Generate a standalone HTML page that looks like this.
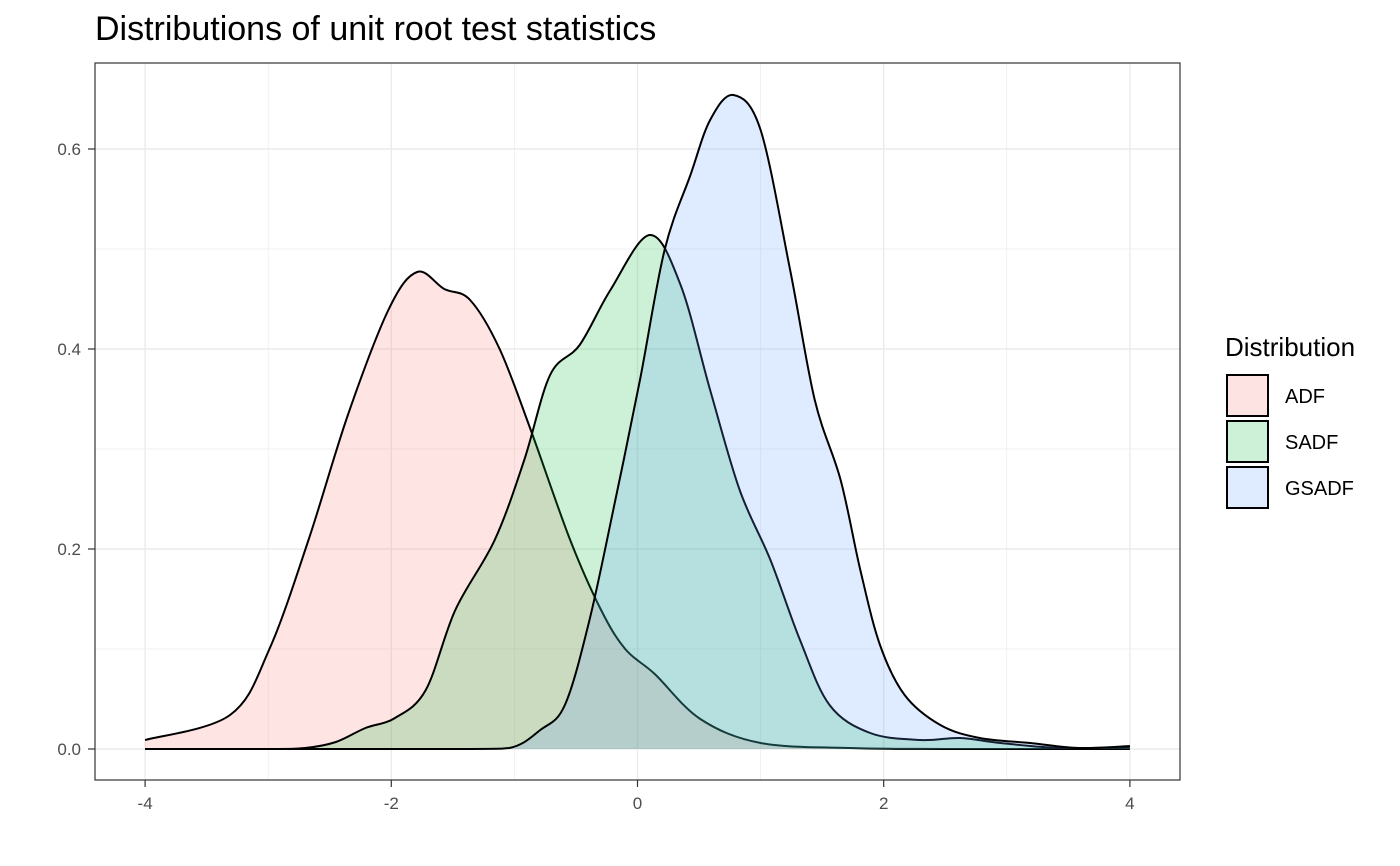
<!DOCTYPE html>
<html><head><meta charset="utf-8"><style>
body{margin:0;background:#fff}
svg{display:block;font-family:"Liberation Sans",sans-serif}
</style></head><body>
<svg id="c" width="1400" height="866"></svg>
<script>
const xTicks=[-4,-2,0,2,4];
const xMinor=[-3,-1,1,3];
const yTicks=[0,0.2,0.4,0.6];
const yMinor=[0.1,0.3,0.5];
const yTickLabels=["0.0","0.2","0.4","0.6"];
const seriesNames=["ADF","SADF","GSADF"];
const adfX=[-4,-3.31,-2.99,-2.67,-2.35,-2.02,-1.79,-1.57,-1.36,-1.12,-0.87,-0.55,-0.3,-0.1,0.14,0.51,1,1.73,2.5,4];
const adfY=[0.009,0.034,0.1,0.21,0.335,0.44,0.477,0.46,0.449,0.4,0.32,0.21,0.14,0.1,0.075,0.03,0.006,0.001,0,0];
const sadfX=[-4,-3,-2.7,-2.45,-2.21,-1.97,-1.72,-1.48,-1.16,-0.92,-0.71,-0.47,-0.22,0.1,0.35,0.59,0.83,1.08,1.32,1.56,1.89,2.3,2.62,2.95,3.43,4];
const sadfY=[0,0,0.001,0.007,0.021,0.031,0.059,0.139,0.209,0.289,0.374,0.404,0.459,0.514,0.464,0.359,0.259,0.189,0.109,0.044,0.016,0.009,0.011,0.006,0.001,0.002];
const gsadfX=[-4,-1.5,-1.04,-0.79,-0.59,-0.39,-0.18,0.02,0.22,0.43,0.59,0.78,1.0,1.24,1.44,1.65,1.81,1.97,2.17,2.46,2.78,3.19,3.59,4];
const gsadfY=[0,0,0.001,0.019,0.044,0.129,0.249,0.369,0.499,0.574,0.629,0.654,0.619,0.479,0.349,0.269,0.179,0.104,0.054,0.024,0.011,0.006,0.001,0.003];
const colors=["rgba(248,118,109,0.2)","rgba(0,186,56,0.2)","rgba(97,156,255,0.2)"];
const legendFill=["#fde4e2","#ccf1d7","#dfebff"];

const NS="http://www.w3.org/2000/svg";
const svg=document.getElementById('c');
const L=95,T=63,R=1180,B=780;
const sx=v=>637.5+v*123.1;
const sy=v=>749-v*1000;
function mk(tag,attrs,parent){const e=document.createElementNS(NS,tag);for(const k in attrs)e.setAttribute(k,attrs[k]);(parent||svg).appendChild(e);return e;}

let e=mk('text',{x:95,y:40,'font-size':34,fill:'#000'});e.textContent="Distributions of unit root test statistics";



xMinor.forEach(v=>{const g=mk('line',{x1:sx(v),x2:sx(v),y1:T,y2:B,stroke:'#ebebeb','stroke-width':0.7});

});
yMinor.forEach(v=>{const g=mk('line',{x1:L,x2:R,y1:sy(v),y2:sy(v),stroke:'#ebebeb','stroke-width':0.7});

});
xTicks.forEach(v=>{const g=mk('line',{x1:sx(v),x2:sx(v),y1:T,y2:B,stroke:'#ebebeb','stroke-width':1.4});

});
yTicks.forEach(v=>{const g=mk('line',{x1:L,x2:R,y1:sy(v),y2:sy(v),stroke:'#ebebeb','stroke-width':1.4});

});

function smooth(pts){let d=`M${pts[0][0]},${pts[0][1]}`;
for(let i=0;i<pts.length-1;i++){const p0=pts[Math.max(i-1,0)],p1=pts[i],p2=pts[i+1],p3=pts[Math.min(i+2,pts.length-1)];
const c1=[p1[0]+(p2[0]-p0[0])/6,p1[1]+(p2[1]-p0[1])/6],c2=[p2[0]-(p3[0]-p1[0])/6,p2[1]-(p3[1]-p1[1])/6];
d+=` C${c1[0]},${Math.min(c1[1],sy(0))} ${c2[0]},${Math.min(c2[1],sy(0))} ${p2[0]},${p2[1]}`;}return d;}
const series=[[adfX,adfY],[sadfX,sadfY],[gsadfX,gsadfY]];
series.forEach((s,i)=>{const pts=s[0].map((x,j)=>[sx(x),sy(s[1][j])]);const line=smooth(pts);
const a=mk('path',{d:line+` L${sx(s[0][s[0].length-1])},${sy(0)} L${sx(s[0][0])},${sy(0)} Z`,fill:colors[i],stroke:'none'});


const l=mk('path',{d:line,fill:'none',stroke:'#000','stroke-width':2});

});

e=mk('rect',{x:L,y:T,width:R-L,height:B-T,fill:'none',stroke:'#333','stroke-width':1.2});



xTicks.forEach(v=>{mk('line',{x1:sx(v),x2:sx(v),y1:B,y2:B+7,stroke:'#333','stroke-width':1.2});
const t=mk('text',{x:sx(v),y:B+29,'font-size':17,fill:'#4d4d4d','text-anchor':'middle'});t.textContent=v;

});
yTicks.forEach((v,i)=>{mk('line',{x1:L-7,x2:L,y1:sy(v),y2:sy(v),stroke:'#333','stroke-width':1.2});
const t=mk('text',{x:L-14,y:sy(v)+6,'font-size':17,fill:'#4d4d4d','text-anchor':'end'});t.textContent=yTickLabels[i];

});

e=mk('text',{x:1225,y:356,'font-size':26,fill:'#000'});e.textContent="Distribution";


seriesNames.forEach((n,i)=>{const y=375+i*46;
const r=mk('rect',{x:1227,y:y,width:41,height:41,fill:legendFill[i],stroke:'#000','stroke-width':2});


const t=mk('text',{x:1285,y:y+28,'font-size':20,fill:'#000'});t.textContent=n;

});
</script>
</body></html>
